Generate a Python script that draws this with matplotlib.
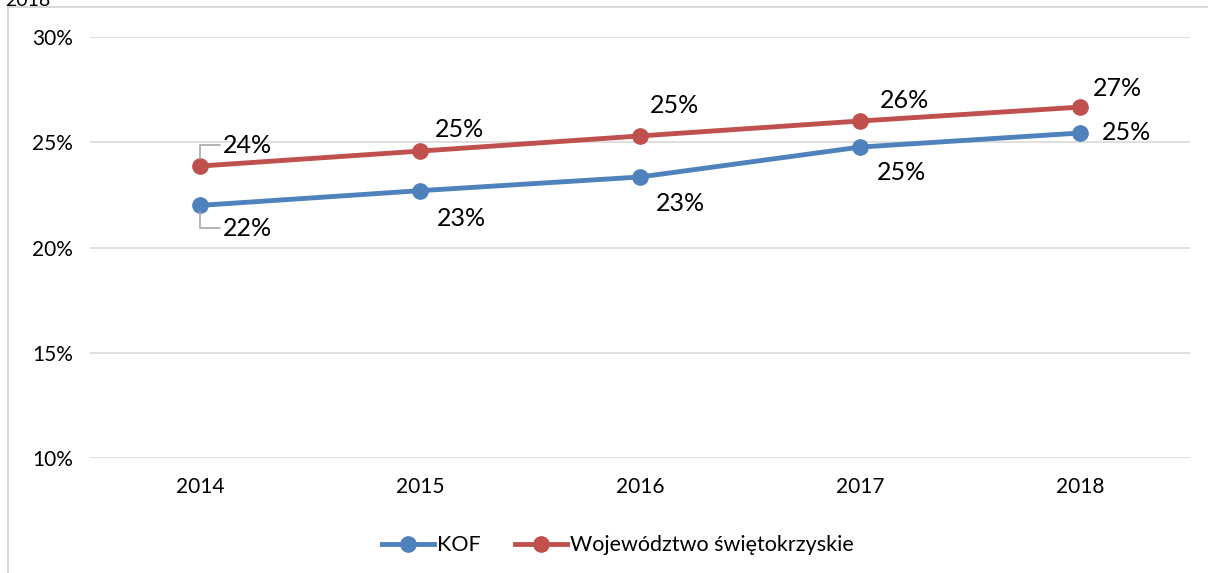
import matplotlib.pyplot as plt
from matplotlib.patches import Rectangle

# dane
lata = ['2014', '2015', '2016', '2017', '2018']
kof = [22.0, 22.7, 23.35, 24.77, 25.44]
woj = [23.87, 24.58, 25.3, 26.01, 26.67]
kof_lab = ['22%', '23%', '23%', '25%', '25%']
woj_lab = ['24%', '25%', '25%', '26%', '27%']
yticks = [10, 15, 20, 25, 30]

plt.rcParams['font.family'] = ['Lato', 'DejaVu Sans']

fig = plt.figure(figsize=(12.08, 5.73), dpi=100)
ax = fig.add_axes([0.0745, 0.2007, 0.9105, 0.7347])

x = range(len(lata))
ax.plot(x, kof, color='#4F81BD', lw=3.5, marker='o', ms=11, label='KOF')
ax.plot(x, woj, color='#C0504D', lw=3.5, marker='o', ms=11, label='Województwo świętokrzyskie')

# etykiety danych (przesuniecie w pikselach)
off_woj = [(47, 21), (40, 22), (35, 30), (45, 21), (38, 19)]
off_kof = [(47, -23), (41, -28), (40, -27), (42, -25), (47, 0)]
for i in x:
    ax.annotate(woj_lab[i], (i, woj[i]), xytext=off_woj[i], textcoords='offset pixels',
                ha='center', va='center', fontsize=18)
    ax.annotate(kof_lab[i], (i, kof[i]), xytext=off_kof[i], textcoords='offset pixels',
                ha='center', va='center', fontsize=18)

# linie odniesienia dla 2014
for val, dy in [(woj[0], 21), (kof[0], -23)]:
    ax.annotate('', (0, val), xytext=(20, dy), textcoords='offset pixels',
                arrowprops=dict(arrowstyle='-', color='#A6A6A6', lw=1.2,
                                connectionstyle='angle,angleA=0,angleB=90,rad=0',
                                shrinkA=0, shrinkB=5))

ax.set_xlim(-0.5, 4.5)
ax.set_ylim(10, 30)
ax.set_xticks(list(x))
ax.set_xticklabels(lata)
ax.set_yticks(yticks)
ax.set_yticklabels([f'{t}%' for t in yticks])
ax.tick_params(length=0, labelsize=15, pad=12)
ax.tick_params(axis='x', pad=14)
ax.grid(axis='y', color='#D9D9D9', lw=1.2)
ax.set_axisbelow(True)
for s in ax.spines.values():
    s.set_visible(False)

ax.legend(loc='center', bbox_to_anchor=(0.48, -0.207), ncol=2, frameon=False,
          fontsize=15.5, handlelength=2.4, columnspacing=1.6, handletextpad=0.15)

# ramka wykresu
fig.patches.append(Rectangle((8 / 1208, -0.1), 1.2, 1 - 7 / 573 + 0.1,
                             transform=fig.transFigure, fill=False,
                             edgecolor='#D9D9D9', lw=1.5))
fig.text(5 / 1208, 1.0, '2018', fontsize=14, va='center', ha='left')

fig.savefig('out.png', dpi=100)
